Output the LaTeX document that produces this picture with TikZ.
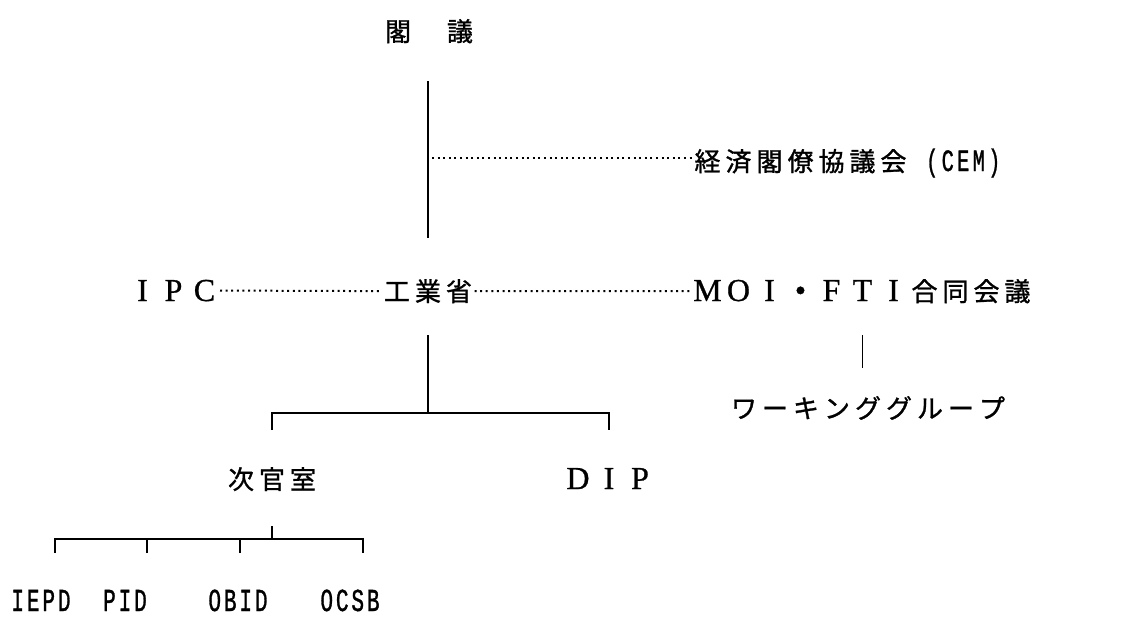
\documentclass[tikz,border=0pt]{standalone}
\usepackage{fontspec}
\setmainfont{Liberation Serif}
\newfontfamily\cjk[FakeBold=1.1]{Noto Sans CJK JP}
\newfontfamily\ser[FakeBold=0.8]{Liberation Serif}
\newfontfamily\cond[FakeBold=1.3]{Liberation Mono}
\def\curw{31pt}
\newcommand\gridw[2]{\def\curw{#1}\gridi#2\relax}
\def\gridi#1{\ifx#1\relax\else\makebox[\curw]{#1}\expandafter\gridi\fi}
\newcommand\gridc[2]{\def\curw{#1}\gridci#2\relax}
\def\gridci#1{\ifx#1\relax\else\makebox[\curw]{\scalebox{0.66}[1]{#1}}\expandafter\gridci\fi}
\begin{document}
\begin{tikzpicture}[x=1pt,y=-1pt,
  every node/.style={inner sep=0pt, outer sep=0pt},
  conn/.style={line width=1.8pt},
  dots/.style={line width=2pt, dash pattern=on 2pt off 3.6pt},
  jp/.style={font=\cjk\fontsize{26}{30}\selectfont},
  lat/.style={font=\ser\fontsize{32}{36}\selectfont},
  mono/.style={font=\cond\fontsize{32}{34}\selectfont}]
\useasboundingbox[fill=white] (0,0) rectangle (1138,616);

% nodes
\node[jp, anchor=base] (kakugi) at (429,41) {\gridw{31pt}{閣~議}};
\node[jp, anchor=base west] (cem) at (692,171) {\gridw{31pt}{経済閣僚協議会}{\cond\fontsize{31}{33}\selectfont\gridc{15.5pt}{~(CEM)}}};
\node[lat, anchor=base west] (ipc) at (127,301) {\gridw{31pt}{IPC}};
\node[jp, anchor=base] (kogyo) at (428,301) {\gridw{31pt}{工業省}};
\node[lat, anchor=base west] (moi) at (692,301) {\gridw{31pt}{MOI•FTI}{\cjk\fontsize{26}{30}\selectfont\gridw{31pt}{合同会議}}};
\node[jp, anchor=base] (wg) at (868,418) {\gridw{31pt}{ワーキンググループ}};
\node[jp, anchor=base] (jikan) at (272,489) {\gridw{31pt}{次官室}};
\node[lat, anchor=base] (dip) at (609,489) {\gridw{31pt}{DIP}};
\node[mono, anchor=base] (iepd) at (41,611) {\gridc{15.5pt}{IEPD}};
\node[mono, anchor=base] (pid) at (125,611) {\gridc{15.5pt}{PID}};
\node[mono, anchor=base] (obid) at (238,611) {\gridc{15.5pt}{OBID}};
\node[mono, anchor=base] (ocsb) at (350,611) {\gridc{15.5pt}{OCSB}};

% coordinates
\coordinate (cj) at (432,158);
\coordinate (b1) at (428,413);
\coordinate (lvl1) at (0,430);
\coordinate (b2) at (272,539);
\coordinate (t1) at (55,553);
\coordinate (t2) at (147,553);
\coordinate (t3) at (240,553);
\coordinate (t4) at (363,553);

% connectors
\draw[conn, shorten <=38pt, shorten >=41pt] (kakugi.south -| kogyo) -- (kogyo.north);
\draw[dots] (cj) -- (cem.west |- cj);
\draw[dots] (ipc.east) -- (kogyo.west);
\draw[dots] (kogyo.east) -- (moi.west);
\draw[conn, shorten <=32pt] (kogyo.south) -- (b1);
\draw[conn] (jikan |- lvl1) |- (b1) -| (dip |- lvl1);
\draw[conn, shorten <=32pt, shorten >=28pt] (moi.south) -- (moi.south |- wg.north);
\draw[conn, shorten <=35pt] (jikan.south) -- (b2);
\draw[conn] (t1) |- (t4 |- b2) -- (t4);
\draw[conn] (t2) -- (t2 |- b2);
\draw[conn] (t3) -- (t3 |- b2);
\end{tikzpicture}
\end{document}
